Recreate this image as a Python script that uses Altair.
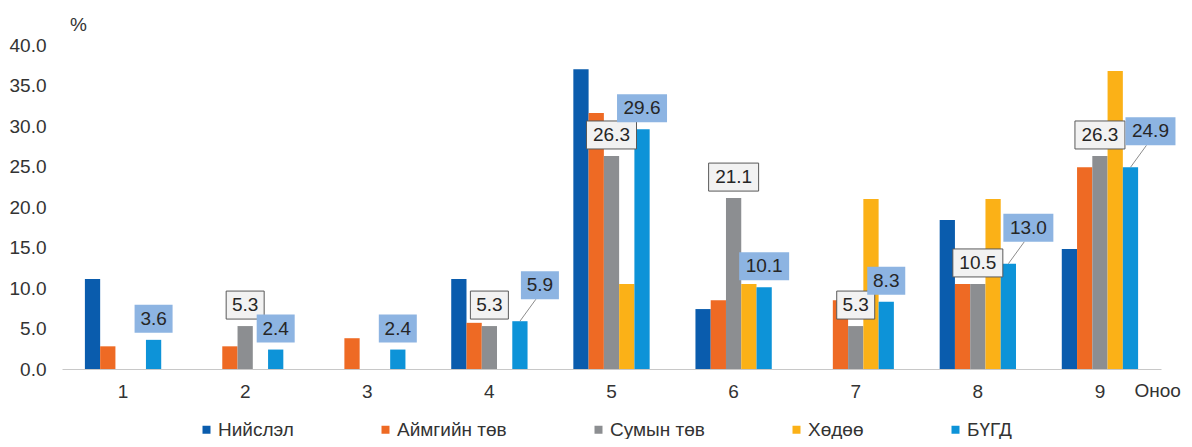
import altair as alt
import pandas as pd

# ---- data ----
categories = ["1", "2", "3", "4", "5", "6", "7", "8", "9"]
series_names = ["Нийслэл", "Аймгийн төв", "Сумын төв", "Хөдөө", "БҮГД"]
niislel = [11.1, 0.0, 0.0, 11.1, 37.0, 7.4, 0.0, 18.4, 14.8]
aimag_tuv = [2.8, 2.8, 3.8, 5.7, 31.6, 8.5, 8.5, 10.5, 24.9]
sum_tuv = [0.0, 5.3, 0.0, 5.3, 26.3, 21.1, 5.3, 10.5, 26.3]
khodoo = [0.0, 0.0, 0.0, 0.0, 10.5, 10.5, 21.0, 21.0, 36.8]
bugd = [3.6, 2.4, 2.4, 5.9, 29.6, 10.1, 8.3, 13.0, 24.9]
y_ticks = [0, 5, 10, 15, 20, 25, 30, 35, 40]
callout_cats = ["4", "8", "9"]

colors = ["#0A5CAD", "#EE6A24", "#8C8E91", "#FBB117", "#0D93D8"]
FONT = "Liberation Sans"

rows = []
for s, vals in zip(series_names, [niislel, aimag_tuv, sum_tuv, khodoo, bugd]):
    for c, v in zip(categories, vals):
        rows.append({"cat": c, "series": s, "value": v})
df = pd.DataFrame(rows)

x_enc = alt.X(
    "cat:N",
    sort=categories,
    scale=alt.Scale(paddingInner=0.375, paddingOuter=0.1875),
    axis=alt.Axis(
        labelAngle=0, ticks=False, domainColor="#C8C8C8", domainWidth=1,
        labelFontSize=19, labelFont=FONT, labelColor="#333333", labelPadding=13,
        title="Оноо", titleX=1072, titleY=21, titleAlign="left", titleBaseline="middle",
        titleFontSize=19, titleFont=FONT, titleFontWeight="normal", titleColor="#333333",
    ),
)
xo_enc = alt.XOffset("series:N", scale=alt.Scale(domain=series_names, paddingInner=0, paddingOuter=0))
y_enc = alt.Y(
    "value:Q",
    scale=alt.Scale(domain=[0, 40], nice=False),
    axis=alt.Axis(
        values=y_ticks, format=".1f", grid=False, ticks=False, domain=False,
        labelFontSize=19, labelFont=FONT, labelColor="#333333", labelPadding=16,
        title="%", titleAngle=0, titleX=16, titleY=-21, titleAlign="center",
        titleBaseline="middle", titleFontSize=19, titleFont=FONT,
        titleFontWeight="normal", titleColor="#333333",
    ),
)

base = alt.Chart(df)

bars = base.mark_bar().encode(
    x=x_enc,
    xOffset=xo_enc,
    y=y_enc,
    color=alt.Color(
        "series:N",
        scale=alt.Scale(domain=series_names, range=colors),
        legend=alt.Legend(
            title=None, orient="none", legendX=135, legendY=375, direction="horizontal",
            symbolType="square", symbolSize=64, symbolStrokeWidth=0,
            labelFontSize=19, labelFont=FONT, labelColor="#333333",
            labelOffset=2, columnPadding=82, padding=0,
        ),
    ),
)

# label box shapes (units of 10 px with size=400)
BOX_SHORT = "M-1.9,-3.5L1.9,-3.5L1.9,-0.7L-1.9,-0.7Z"
BOX_LONG = "M-2.5,-3.5L2.5,-3.5L2.5,-0.7L-2.5,-0.7Z"
CBOX_SHORT = "M0.1,-5L3.9,-5L3.9,-2.2L0.1,-2.2Z"
CBOX_LONG = "M-0.5,-5L4.5,-5L4.5,-2.2L-0.5,-2.2Z"
LEADER = "M0,0L1.6,-2.2"


def box_layer(data_filter, short_path, long_path, fill, stroke, sw):
    return base.transform_filter(data_filter).mark_point(
        filled=True, size=400, fill=fill, stroke=stroke, strokeWidth=sw,
        opacity=1, fillOpacity=1,
    ).encode(
        x=alt.X("cat:N", sort=categories),
        xOffset=xo_enc,
        y="value:Q",
        shape=alt.condition("datum.value >= 10", alt.value(long_path), alt.value(short_path)),
    )


def text_layer(data_filter, dx, dy):
    return base.transform_filter(data_filter).mark_text(
        dx=dx, dy=dy, fontSize=19, font=FONT, color="#262626", baseline="middle", align="center",
    ).encode(
        x=alt.X("cat:N", sort=categories),
        xOffset=xo_enc,
        y="value:Q",
        text=alt.Text("value:Q", format=".1f"),
    )


cats_js = "[" + ",".join("'%s'" % c for c in callout_cats) + "]"
f_sum = "datum.series == 'Сумын төв' && datum.value > 0"
f_bugd = "datum.series == 'БҮГД' && indexof(%s, datum.cat) < 0" % cats_js
f_bugd_c = "datum.series == 'БҮГД' && indexof(%s, datum.cat) >= 0" % cats_js

leader = base.transform_filter(f_bugd_c).mark_point(
    shape=LEADER, size=400, filled=False, stroke="#8C8C8C", strokeWidth=1, opacity=1,
).encode(x=alt.X("cat:N", sort=categories), xOffset=xo_enc, y="value:Q")

chart = alt.layer(
    bars,
    leader,
    box_layer(f_sum, BOX_SHORT, BOX_LONG, "#F2F2F2", "#595959", 1),
    text_layer(f_sum, 0, -21),
    box_layer(f_bugd, BOX_SHORT, BOX_LONG, "#8DB4E2", "#8DB4E2", 0),
    text_layer(f_bugd, 0, -21),
    box_layer(f_bugd_c, CBOX_SHORT, CBOX_LONG, "#8DB4E2", "#8DB4E2", 0),
    text_layer(f_bugd_c, 20, -36),
).properties(
    width=1099,
    height=324,
    autosize=alt.AutoSizeParams(type="none"),
    padding={"left": 54, "top": 37, "right": 23, "bottom": 70},
    background="white",
).configure_view(stroke=None)

chart.save("out.html", embed_options={"renderer": "svg", "actions": False})
